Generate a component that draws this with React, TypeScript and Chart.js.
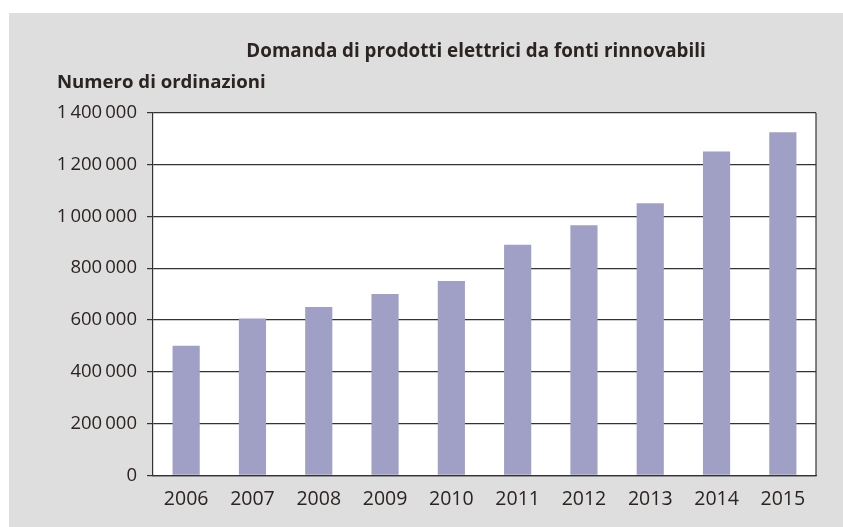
import React, { useEffect, useRef } from "react";
import { Chart, registerables } from "chart.js";

Chart.register(...registerables);

const categories = ["2006", "2007", "2008", "2009", "2010", "2011", "2012", "2013", "2014", "2015"];
const orders = [500000, 605000, 650000, 700000, 750000, 890000, 965000, 1050000, 1250000, 1325000];
const chartTitle = "Domanda di prodotti elettrici da fonti rinnovabili";
const yAxisTitle = "Numero di ordinazioni";

const TEXT = "#2b2420";
const FONT = "'Open Sans', 'Noto Sans', sans-serif";

function fmt(v: number): string {
  const s = Math.round(v).toString();
  return s.replace(/\B(?=(\d{3})+(?!\d))/g, "\u2009");
}

const framePlugin = {
  id: "framePlugin",
  beforeDraw(chart: any) {
    const { ctx, chartArea } = chart;
    ctx.save();
    ctx.fillStyle = "#ffffff";
    ctx.fillRect(chartArea.left, chartArea.top, chartArea.right - chartArea.left, chartArea.bottom - chartArea.top);
    ctx.restore();
  },
  afterDraw(chart: any) {
    const { ctx, chartArea } = chart;
    ctx.save();
    ctx.strokeStyle = "#333333";
    ctx.lineWidth = 1.2;
    ctx.beginPath();
    ctx.moveTo(chartArea.right, chartArea.top);
    ctx.lineTo(chartArea.right, chartArea.bottom);
    ctx.stroke();
    ctx.fillStyle = TEXT;
    ctx.textBaseline = "alphabetic";
    ctx.font = `bold 18.8px ${FONT}`;
    ctx.textAlign = "center";
    ctx.fillText(chartTitle, 467, 43.5);
    ctx.font = `bold 18.6px ${FONT}`;
    ctx.textAlign = "left";
    ctx.fillText(yAxisTitle, 48, 75);
    ctx.restore();
  },
};

export default function App() {
  const ref = useRef<HTMLCanvasElement | null>(null);
  useEffect(() => {
    if (!ref.current) return;
    const chart = new Chart(ref.current, {
      type: "bar",
      data: {
        labels: categories,
        datasets: [
          {
            data: orders,
            backgroundColor: "rgb(160,160,198)",
            borderWidth: 0,
            barPercentage: 0.41,
            categoryPercentage: 1,
          },
        ],
      },
      options: {
        animation: false,
        responsive: false,
        maintainAspectRatio: false,
        layout: { padding: { top: 99.7, right: 27, left: 0, bottom: 0 } },
        plugins: {
          legend: { display: false },
          title: { display: false },
          tooltip: { enabled: false },
        },
        scales: {
          x: {
            grid: { display: false, drawTicks: false },
            border: { display: true, color: "#333333", width: 1.2 },
            ticks: {
              color: TEXT,
              font: { family: FONT, size: 19.5 },
              padding: 12,
              maxRotation: 0,
            },
            afterFit(scale: any) {
              scale.height = 51.7;
            },
          },
          y: {
            min: 0,
            max: 1400000,
            grid: {
              color: "#333333",
              lineWidth: 1.2,
              tickLength: 6,
              drawTicks: true,
            },
            border: { display: true, color: "#333333", width: 1.2 },
            ticks: {
              stepSize: 200000,
              color: TEXT,
              font: { family: FONT, size: 18.5 },
              padding: 10,
              callback: (v: any) => fmt(Number(v)),
            },
            afterFit(scale: any) {
              scale.width = 144;
            },
          },
        },
      },
      plugins: [framePlugin],
    });
    return () => chart.destroy();
  }, []);

  return (
    <div style={{ position: "absolute", left: 0, top: 0, width: 843, height: 527, background: "#ffffff" }}>
      <div style={{ position: "absolute", left: 9, top: 13, width: 834, height: 514, background: "#dedede" }}>
        <canvas ref={ref} width={834} height={514} style={{ display: "block", width: 834, height: 514 }} />
      </div>
    </div>
  );
}
